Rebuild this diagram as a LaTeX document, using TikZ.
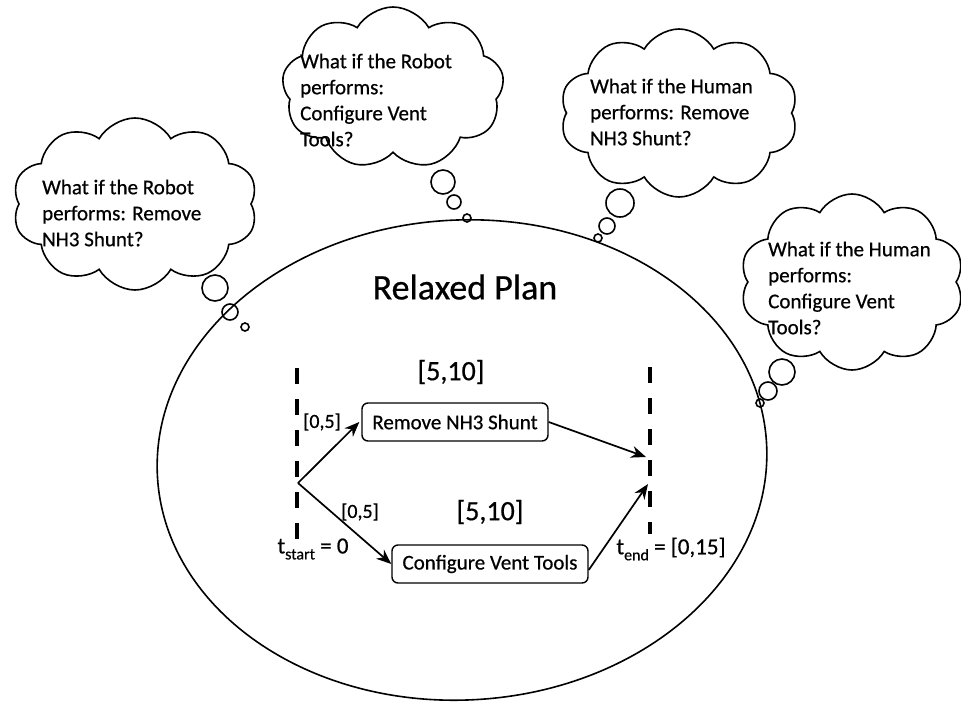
\documentclass[tikz,border=0pt]{standalone}
\usepackage{fontspec}
\setmainfont{Carlito}[FakeBold=0.6]
\usetikzlibrary{shapes.geometric,shapes.symbols,arrows.meta}

\begin{document}
\begin{tikzpicture}[x=1pt,y=-1pt,
  thought/.style={cloud, draw, line width=1.6pt, cloud puffs=9, cloud puff arc=120,
    cloud ignores aspect, inner sep=0pt},
  puff/.style={circle, draw, line width=1.6pt, inner sep=0pt},
  thoughttext/.style={anchor=west, align=left, inner sep=0pt,
    font=\fontsize{21}{26}\selectfont},
  task/.style={draw, rounded corners=6pt, line width=1.4pt, minimum height=38pt,
    inner sep=0pt, font=\fontsize{21}{25}\selectfont},
  timeline/.style={line width=4.5pt, dash pattern=on 16pt off 15pt},
  link/.style={line width=1.7pt, -{Stealth[length=15pt,width=12pt]}},
  interval/.style={font=\fontsize{28}{32}\selectfont, inner sep=0pt},
  small/.style={font=\fontsize{20}{24}\selectfont, inner sep=0pt},
  timelabel/.style={font=\fontsize{23}{27}\selectfont, inner sep=0pt},
  ]
\useasboundingbox (0,0) rectangle (961,702);

% the plan
\node[ellipse, draw, line width=1.6pt, minimum width=610pt, minimum height=480pt,
  rotate=3, inner sep=0pt] (plan) at (462,460) {};
\node[font=\fontsize{36}{40}\selectfont, inner sep=0pt] (title) at (465,287) {Relaxed Plan};

% thought clouds
\node[thought, cloud puffs=10, minimum width=245pt, minimum height=172pt] (c1) at (135,204) {};
\node[thought, minimum width=222pt, minimum height=162pt] (c2) at (393,88) {};
\node[thought, cloud puffs=10, minimum width=238pt, minimum height=168pt] (c3) at (679,113) {};
\node[thought, cloud puffs=10, minimum width=224pt, minimum height=176pt] (c4) at (852,282) {};

\node[thoughttext] (t1) at (42,213) {What if the Robot\\performs: Remove\\NH3 Shunt?};
\node[thoughttext] (t2) at (300,100) {What if the Robot\\performs:\\Configure Vent\\Tools?};
\node[thoughttext] (t3) at (590,112) {What if the Human\\performs: Remove\\NH3 Shunt?};
\node[thoughttext] (t4) at (768,288) {What if the Human\\performs:\\Configure Vent\\Tools?};

% bubbles trailing from the clouds to the plan
\node[puff, minimum size=26pt] (b1a) at (215,288) {};
\node[puff, minimum size=16pt] (b1b) at (230,312) {};
\node[puff, minimum size=8pt]  (b1c) at (245,327) {};
\node[puff, minimum size=24pt] (b2a) at (443,182) {};
\node[puff, minimum size=14pt] (b2b) at (454,202) {};
\node[puff, minimum size=8pt]  (b2c) at (467,218) {};
\node[puff, minimum size=28pt] (b3a) at (620,203) {};
\node[puff, minimum size=16pt] (b3b) at (607,226) {};
\node[puff, minimum size=8pt]  (b3c) at (598,238) {};
\node[puff, minimum size=26pt] (b4a) at (782,372) {};
\node[puff, minimum size=18pt] (b4b) at (768,391) {};
\node[puff, minimum size=8pt]  (b4c) at (760,403) {};

% time lines
\coordinate (s1) at (297,368);
\coordinate (s2) at (297,540);
\coordinate (f1) at (650,367);
\coordinate (f2) at (650,534);
\draw[timeline] (s1) -- (s2);
\draw[timeline] (f1) -- (f2);

% tasks
\node[task, minimum width=186pt] (rem) at (455,422) {Remove NH3 Shunt};
\node[task, minimum width=196pt] (conf) at (490,564) {Configure Vent Tools};

\coordinate (fork) at (298,483);
\coordinate (e1) at (646,457);
\coordinate (e2) at (648,484);
\draw[link] (fork) -- ([xshift=-2pt]rem.west);
\draw[link] (fork) -- (conf.west);
\draw[link] (rem.east) -- (e1);
\draw[link] ([yshift=-6pt]conf.east) -- (e2);

% labels
\node[interval] (d1) at (451,372) {[5,10]};
\node[interval] (d2) at (490,512) {[5,10]};
\node[small] (w1) at (322,422) {[0,5]};
\node[small] (w2) at (360,512) {[0,5]};
\node[timelabel] (ts) at (313,549) {t\raisebox{-6pt}{\fontsize{16}{16}\selectfont start} = 0};
\node[timelabel] (te) at (671,549) {t\raisebox{-6pt}{\fontsize{16}{16}\selectfont end} = [0,15]};
\end{tikzpicture}
\end{document}
